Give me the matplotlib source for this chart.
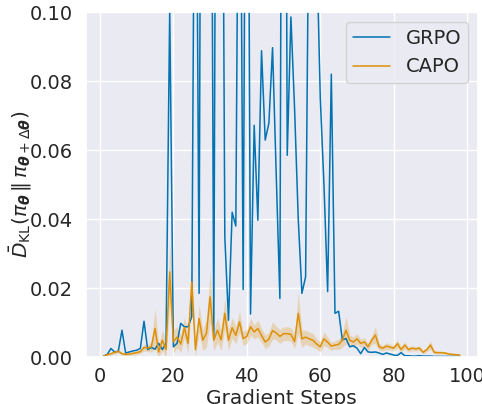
import numpy as np
import matplotlib
matplotlib.use("Agg")
import matplotlib.pyplot as plt
import seaborn as sns

# --- Data ---
steps = np.arange(1, 99)

grpo_kl = [
    0.0003, 0.0008, 0.0025, 0.0015, 0.0017, 0.0078, 0.0012, 0.0015, 0.0018, 0.0020,
    0.0025, 0.0104, 0.0022, 0.0028, 0.0023, 0.0040, 0.0022, 0.0040, 0.1010, 0.0030,
    0.0040, 0.0098, 0.0088, 0.0088, 0.0117, 0.2000, 0.0185, 0.3500, 0.3000, 0.2500,
    0.0059, 0.3000, 0.2500, 0.0350, 0.0107, 0.0420, 0.0380, 0.2000, 0.0196, 0.2500,
    0.0125, 0.0672, 0.0397, 0.0888, 0.0629, 0.0678, 0.0897, 0.0530, 0.0170, 0.3500,
    0.0585, 0.0986, 0.0720, 0.0400, 0.0185, 0.0233, 0.1500, 0.2000, 0.1200, 0.0750,
    0.0500, 0.0190, 0.0820, 0.0127, 0.0133, 0.0050, 0.0054, 0.0030, 0.0033, 0.0026,
    0.0010, 0.0028, 0.0015, 0.0014, 0.0015, 0.0012, 0.0008, 0.0012, 0.0009, 0.0006,
    0.0005, 0.0013, 0.0004, 0.0004, 0.0003, 0.0003, 0.0004, 0.0003, 0.0003, 0.0003,
    0.0002, 0.0002, 0.0002, 0.0002, 0.0002, 0.0002, 0.0002, 0.0002,
]

capo_kl = [
    0.0003, 0.0007, 0.0010, 0.0014, 0.0017, 0.0010, 0.0008, 0.0009, 0.0011, 0.0013,
    0.0016, 0.0028, 0.0026, 0.0030, 0.0083, 0.0015, 0.0049, 0.0022, 0.0247, 0.0045,
    0.0058, 0.0038, 0.0086, 0.0040, 0.0218, 0.0022, 0.0112, 0.0049, 0.0069, 0.0175,
    0.0049, 0.0078, 0.0050, 0.0127, 0.0049, 0.0085, 0.0063, 0.0102, 0.0054, 0.0060,
    0.0088, 0.0073, 0.0083, 0.0063, 0.0044, 0.0052, 0.0077, 0.0070, 0.0060, 0.0068,
    0.0068, 0.0066, 0.0045, 0.0127, 0.0053, 0.0058, 0.0053, 0.0049, 0.0038, 0.0030,
    0.0053, 0.0043, 0.0032, 0.0035, 0.0037, 0.0049, 0.0078, 0.0049, 0.0044, 0.0053,
    0.0040, 0.0044, 0.0030, 0.0049, 0.0064, 0.0030, 0.0026, 0.0032, 0.0029, 0.0026,
    0.0039, 0.0022, 0.0035, 0.0022, 0.0026, 0.0024, 0.0026, 0.0014, 0.0022, 0.0035,
    0.0014, 0.0013, 0.0013, 0.0012, 0.0009, 0.0008, 0.0007, 0.0006,
]

# half-width of the CAPO confidence band
capo_err = [
    0.0002, 0.0003, 0.0004, 0.0005, 0.0005, 0.0004, 0.0004, 0.0004, 0.0005, 0.0005,
    0.0006, 0.0010, 0.0010, 0.0015, 0.0060, 0.0020, 0.0030, 0.0025, 0.0090, 0.0035,
    0.0030, 0.0025, 0.0030, 0.0030, 0.0050, 0.0025, 0.0040, 0.0030, 0.0040, 0.0075,
    0.0030, 0.0035, 0.0030, 0.0045, 0.0030, 0.0030, 0.0025, 0.0030, 0.0020, 0.0020,
    0.0025, 0.0020, 0.0025, 0.0020, 0.0020, 0.0020, 0.0025, 0.0020, 0.0020, 0.0020,
    0.0020, 0.0020, 0.0020, 0.0060, 0.0025, 0.0020, 0.0020, 0.0020, 0.0015, 0.0015,
    0.0020, 0.0015, 0.0012, 0.0012, 0.0015, 0.0020, 0.0040, 0.0015, 0.0015, 0.0015,
    0.0012, 0.0012, 0.0010, 0.0012, 0.0025, 0.0010, 0.0008, 0.0010, 0.0008, 0.0008,
    0.0012, 0.0008, 0.0010, 0.0007, 0.0007, 0.0006, 0.0007, 0.0005, 0.0006, 0.0012,
    0.0005, 0.0004, 0.0004, 0.0004, 0.0003, 0.0003, 0.0003, 0.0003,
]

# --- Plot ---
sns.set_theme(style="darkgrid", palette="colorblind", font_scale=1.2)
blue, orange = sns.color_palette("colorblind")[:2]

fig = plt.figure(figsize=(4.82, 4.04), dpi=100)
ax = fig.add_axes([0.178, 0.116, 0.813, 0.854])

capo = np.array(capo_kl)
err = np.array(capo_err)
ax.plot(steps, grpo_kl, color=blue, lw=1.1, label="GRPO")
ax.plot(steps, capo, color=orange, lw=1.1, label="CAPO")
ax.fill_between(steps, np.clip(capo - err, 0, None), capo + err,
                color=orange, alpha=0.25, lw=0)

ax.set_ylim(0, 0.1)
ax.set_xticks([0, 20, 40, 60, 80, 100])
ax.set_yticks([0, 0.02, 0.04, 0.06, 0.08, 0.10])
ax.set_yticklabels(["0.00", "0.02", "0.04", "0.06", "0.08", "0.10"])
ax.tick_params(labelsize=14)
ax.tick_params(axis="x", pad=1)
ax.set_xlabel("Gradient Steps", fontsize=14.5, labelpad=2)
ax.set_ylabel(r"$\bar{D}_{\mathrm{KL}}(\pi_{\boldsymbol{\theta}}\,\|\,"
              r"\pi_{\boldsymbol{\theta}+\Delta\boldsymbol{\theta}})$",
              fontsize=14.5, labelpad=-3)
ax.legend(loc="upper right", fontsize=14, handlelength=1.9, handletextpad=0.8,
          borderpad=0.35, borderaxespad=0.5)

fig.savefig("out.png", dpi=100)
